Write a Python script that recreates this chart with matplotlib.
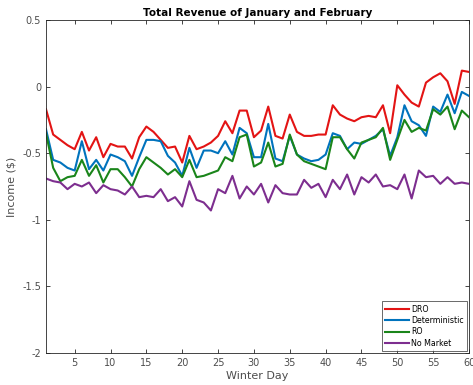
import matplotlib.pyplot as plt
import numpy as np

days = np.arange(1, 61)

dro = [-0.17, -0.36, -0.40, -0.44, -0.47, -0.34, -0.48, -0.38, -0.53, -0.43,
       -0.45, -0.45, -0.54, -0.38, -0.30, -0.34, -0.40, -0.46, -0.45, -0.57,
       -0.37, -0.47, -0.45, -0.42, -0.37, -0.26, -0.35, -0.18, -0.18, -0.38,
       -0.33, -0.15, -0.37, -0.39, -0.21, -0.34, -0.37, -0.37, -0.36, -0.36,
       -0.14, -0.21, -0.24, -0.26, -0.23, -0.22, -0.23, -0.14, -0.35, 0.01,
       -0.06, -0.12, -0.15, 0.03, 0.07, 0.10, 0.04, -0.13, 0.12, 0.11]

deterministic = [-0.32, -0.55, -0.57, -0.61, -0.63, -0.41, -0.62, -0.55, -0.63, -0.51,
                 -0.53, -0.56, -0.67, -0.53, -0.40, -0.40, -0.41, -0.52, -0.57, -0.67,
                 -0.46, -0.61, -0.48, -0.48, -0.50, -0.41, -0.51, -0.31, -0.35, -0.53,
                 -0.53, -0.28, -0.54, -0.56, -0.37, -0.51, -0.54, -0.56, -0.55, -0.51,
                 -0.35, -0.37, -0.47, -0.42, -0.43, -0.40, -0.37, -0.32, -0.52, -0.38,
                 -0.14, -0.26, -0.29, -0.37, -0.15, -0.19, -0.06, -0.20, -0.04, -0.07]

ro = [-0.35, -0.61, -0.71, -0.68, -0.67, -0.55, -0.67, -0.59, -0.72, -0.62,
      -0.62, -0.68, -0.75, -0.62, -0.53, -0.57, -0.61, -0.66, -0.62, -0.68,
      -0.55, -0.68, -0.67, -0.65, -0.63, -0.53, -0.56, -0.38, -0.36, -0.60,
      -0.57, -0.42, -0.60, -0.58, -0.36, -0.51, -0.56, -0.58, -0.60, -0.62,
      -0.38, -0.38, -0.47, -0.54, -0.42, -0.40, -0.38, -0.31, -0.55, -0.40,
      -0.25, -0.34, -0.31, -0.33, -0.17, -0.21, -0.15, -0.32, -0.18, -0.23]

no_market = [-0.69, -0.71, -0.72, -0.77, -0.73, -0.75, -0.72, -0.80, -0.74, -0.77,
             -0.78, -0.81, -0.75, -0.83, -0.82, -0.83, -0.77, -0.86, -0.83, -0.90,
             -0.71, -0.85, -0.87, -0.93, -0.77, -0.80, -0.67, -0.84, -0.75, -0.81,
             -0.73, -0.87, -0.74, -0.80, -0.81, -0.81, -0.70, -0.76, -0.73, -0.83,
             -0.70, -0.77, -0.66, -0.81, -0.68, -0.72, -0.66, -0.75, -0.74, -0.77,
             -0.66, -0.84, -0.63, -0.68, -0.67, -0.73, -0.68, -0.73, -0.72, -0.73]

axis_gray = (0.15, 0.15, 0.15)

fig = plt.figure(figsize=(4.73, 3.85), dpi=100)
ax = fig.add_axes([46 / 473, 1 - 353 / 385, 423 / 473, 333 / 385])

ax.plot(days, dro, color=(0.89, 0.08, 0.08), lw=1.5, label='DRO')
ax.plot(days, deterministic, color=(0.0, 0.45, 0.74), lw=1.5, label='Deterministic')
ax.plot(days, ro, color=(0.1, 0.52, 0.1), lw=1.5, label='RO')
ax.plot(days, no_market, color=(0.49, 0.18, 0.56), lw=1.5, label='No Market')

ax.set_xlim(1, 60)
ax.set_ylim(-2, 0.5)
ax.set_xticks(np.arange(5, 61, 5))
ax.set_yticks([-2, -1.5, -1, -0.5, 0, 0.5])
ax.set_yticklabels(['-2', '-1.5', '-1', '-0.5', '0', '0.5'])
ax.tick_params(direction='in', length=3, width=0.6, colors=axis_gray,
               labelsize=7, top=True, right=True, labelcolor=(0.3, 0.3, 0.3))
for s in ax.spines.values():
    s.set_color(axis_gray)
    s.set_linewidth(0.6)

ax.set_title('Total Revenue of January and February', fontsize=7.5,
             fontweight='bold', pad=3)
ax.set_xlabel('Winter Day', fontsize=8, color=(0.3, 0.3, 0.3), labelpad=2)
ax.set_ylabel('Income ($)', fontsize=8, color=(0.3, 0.3, 0.3), labelpad=4)

leg = ax.legend(loc='lower right', fontsize=5.7, frameon=True, fancybox=False,
                handlelength=3.0, handletextpad=0.3, borderpad=0.45,
                labelspacing=0.3, borderaxespad=0.2)
leg.get_frame().set_edgecolor(axis_gray)
leg.get_frame().set_linewidth(0.6)

fig.savefig('out.png', dpi=100)
